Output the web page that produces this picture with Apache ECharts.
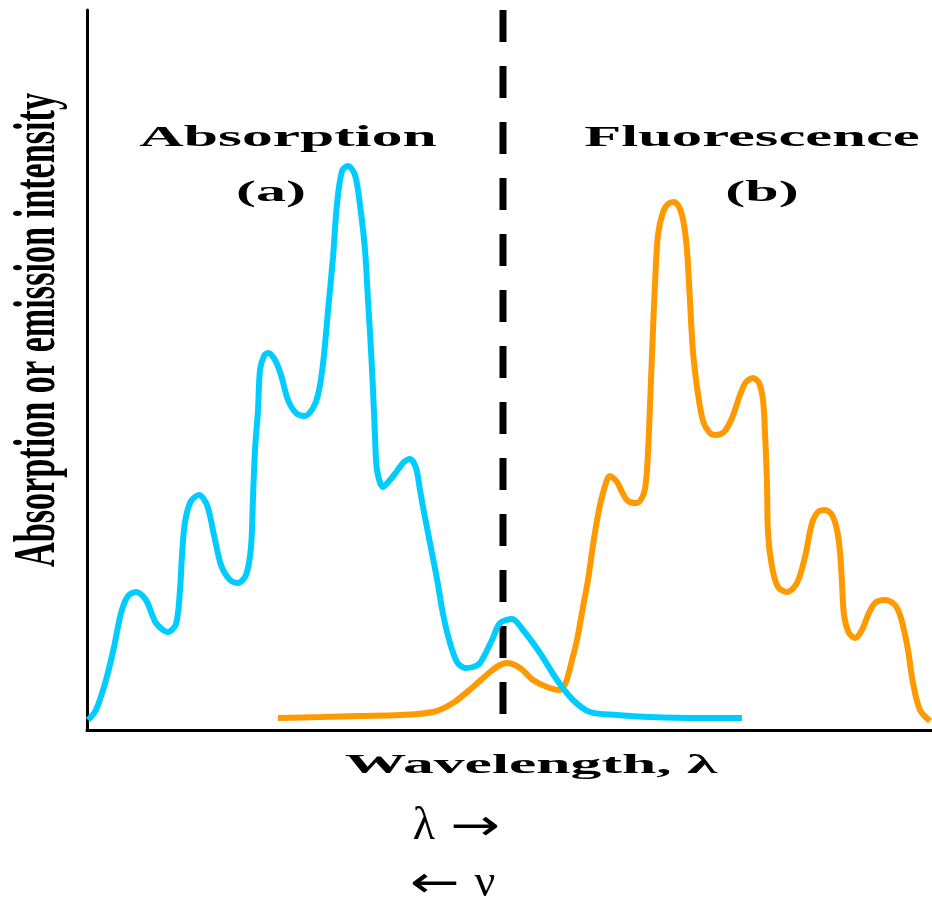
<!DOCTYPE html>
<html>
<head>
<meta charset="utf-8">
<script src="https://cdn.jsdelivr.net/npm/echarts@6/dist/echarts.min.js"></script>
<style>
html,body{margin:0;padding:0;background:#fff;}
#chart{width:932px;height:905px;}
</style>
</head>
<body>
<div id="chart"></div>
<script>
// Wavelength (arbitrary units) and intensity (arbitrary units)
var absorption = [
[1,10],[9,20],[19,50],[27,83],[34,117],[41,134],[49,138],[59,130],[69,107],[81,98],
[89,106],[93,140],[95,175],[98,208],[104,229],[112,235],[120,225],[127,195],[134,165],[143,150],
[151,147],[159,155],[164,183],[166,233],[168,280],[171,320],[173,360],[177,374],[181,377],[188,370],
[194,355],[201,330],[209,317],[218,314],[226,322],[231,335],[236,366],[241,419],[246,473],[250,526],
[255,559],[261,564],[268,555],[273,525],[278,480],[281,430],[284,380],[286,340],[288,294],[290,260],
[296,243],[303,250],[310,259],[317,268],[323,271],[329,262],[333,240],[336,223],[343,187],[350,151],
[356,116],[363,87],[370,68],[378,62],[386,63],[393,67],[405,90],[413,107],[425,111],[436,100],
[453,77],[470,50],[486,30],[503,18],[530,15],[563,13],[613,12],[655,12]
];
var fluorescence = [
[191,12],[233,13],[273,14],[313,15],[346,18],[366,27],[386,43],[403,58],[413,65],[420,67],
[433,62],[446,50],[460,43],[473,40],[479,48],[485,70],[490,90],[496,123],[501,150],[506,185],
[511,215],[516,237],[523,254],[530,248],[535,238],[541,229],[550,227],[557,237],[560,260],[562,300],
[564,350],[566,400],[568,447],[571,495],[576,518],[581,526],[587,528],[593,521],[597,505],[600,480],
[603,429],[606,378],[611,336],[616,309],[622,298],[628,295],[637,298],[645,312],[653,335],[659,348],
[666,352],[672,347],[676,330],[678,297],[680,247],[681,197],[685,163],[691,143],[700,138],[710,147],
[718,173],[725,207],[731,218],[738,220],[745,215],[750,200],[753,178],[755,147],[757,115],[762,97],
[768,92],[775,100],[781,115],[788,127],[798,130],[808,125],[813,115],[817,100],[821,80],[826,47],
[833,20],[843,9]
];
var crossing = [[416,720],[416,16]];
var xRange = [0, 845];
var yRange = [0, 720];

var chart = echarts.init(document.getElementById('chart'), null, {renderer:'canvas'});
var serif = '"Liberation Serif","Times New Roman",serif';
var sans = '"DejaVu Sans",sans-serif';
function label(text, x, y, size, sx, bold, rot, fam){
  return {
    type:'text', x:x, y:y, scaleX:sx, rotation:rot||0, z:10,
    style:{text:text, fill:'#000', font:(bold?'bold ':'')+size+'px '+(fam||serif),
      textAlign:'center', textVerticalAlign:'middle', align:'center', verticalAlign:'middle'}
  };
}
chart.setOption({
  animation:false,
  backgroundColor:'#fff',
  grid:{left:87, right:0, top:10, bottom:175},
  xAxis:{type:'value', min:xRange[0], max:xRange[1],
    axisLine:{show:true, onZero:false, lineStyle:{color:'#000', width:3}},
    axisTick:{show:false}, axisLabel:{show:false}, splitLine:{show:false}},
  yAxis:{type:'value', min:yRange[0], max:yRange[1],
    axisLine:{show:true, onZero:false, lineStyle:{color:'#000', width:3}},
    axisTick:{show:false}, axisLabel:{show:false}, splitLine:{show:false}},
  series:[
    {type:'line', data:crossing, showSymbol:false, silent:true, z:1,
      lineStyle:{color:'#000', width:7, type:[32,24], cap:'butt'}},
    {type:'line', name:'Fluorescence', data:fluorescence, showSymbol:false, smooth:0.3, z:2,
      lineStyle:{color:'#FF9900', width:6}},
    {type:'line', name:'Absorption', data:absorption, showSymbol:false, smooth:0.3, z:3,
      lineStyle:{color:'#00CCFF', width:6}}
  ],
  graphic:[
    label('Absorption', 288, 138, 30, 2.05, true),
    label('(a)', 271, 193, 30, 2.0, true),
    label('Fluorescence', 752, 138, 30, 2.02, true),
    label('(b)', 762, 193, 30, 2.0, true),
    label('Wavelength, \u03bb', 531, 766, 28, 2.2, true),
    label('Absorption or emission intensity', 38, 330, 60, 0.57, true, Math.PI/2),
    label('\u03bb', 424, 827, 46, 1, false),
    label('\u2192', 475, 829, 44, 1.35, false, 0, sans),
    label('\u2190', 435, 886, 44, 1.35, false, 0, sans),
    label('\u03bd', 485, 884, 46, 1, false)
  ]
});
</script>
</body>
</html>
